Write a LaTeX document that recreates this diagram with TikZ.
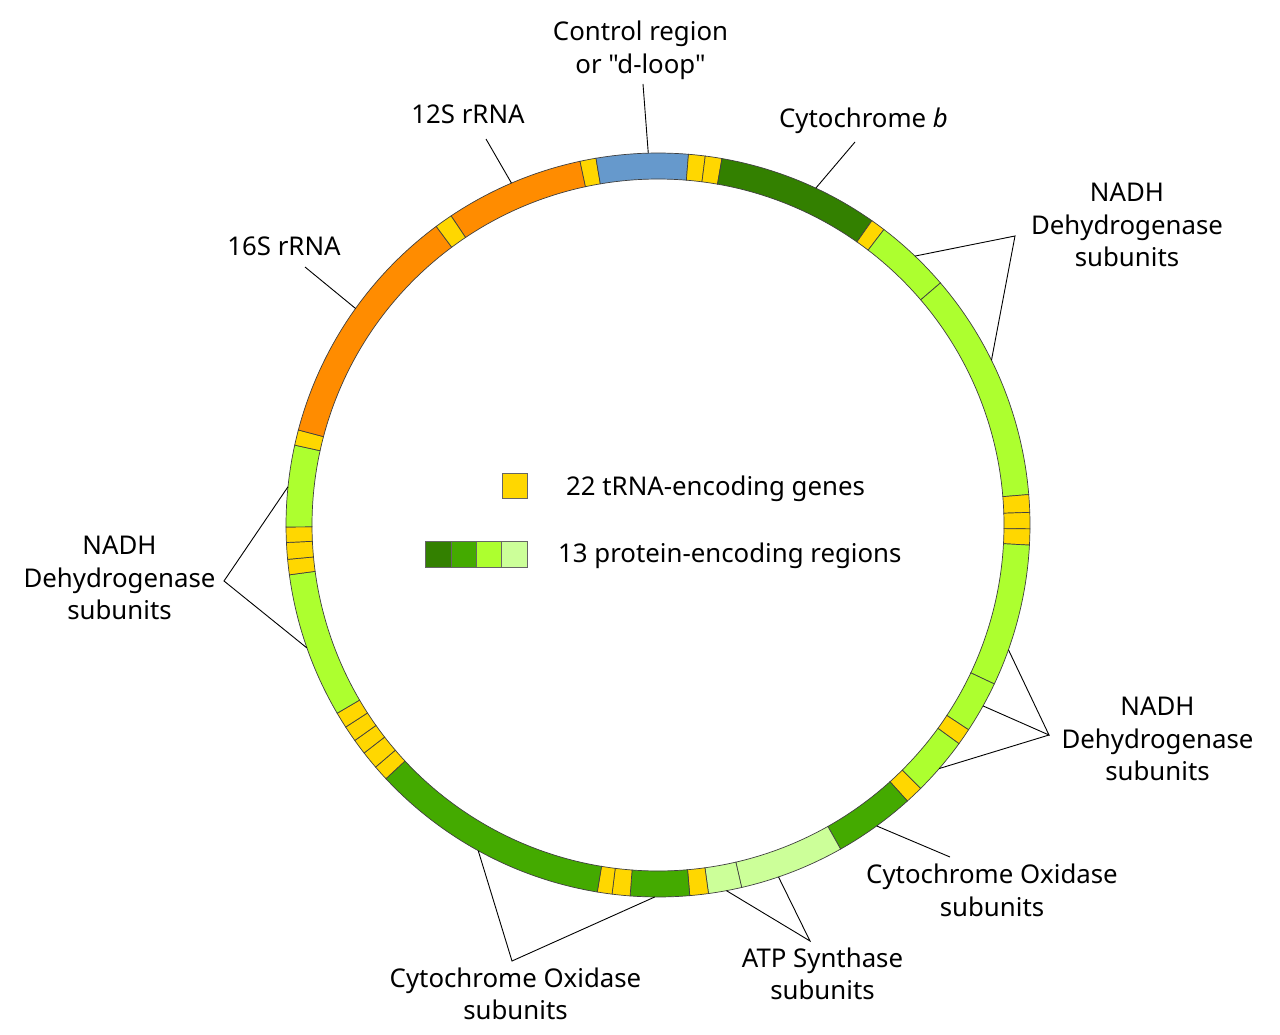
\documentclass[tikz,border=0pt]{standalone}
\usepackage{fontspec}
\setmainfont{Noto Sans}[Ligatures=TeXOff]
\definecolor{orng}{HTML}{FF8C00}
\definecolor{gld}{HTML}{FFD700}
\definecolor{blu}{HTML}{6699CC}
\definecolor{dkg}{HTML}{338000}
\definecolor{mdg}{HTML}{44AA00}
\definecolor{ltg}{HTML}{ADFF2F}
\definecolor{pale}{HTML}{CCFF99}
\tikzset{
  segm/.style={draw=black!75, line width=0.7pt},
  ptr/.style={draw=black, line width=0.9pt},
  lbl/.style={font=\fontsize{25.8}{32.5}\selectfont, inner sep=0pt, anchor=base},
  legbox/.style={draw=black!60, line width=0.8pt},
}
\newcommand\ringseg[3]{\filldraw[segm, fill=#3] (#1:372) arc[start angle=#1, end angle=#2, radius=372] -- (#2:346) arc[start angle=#2, end angle=#1, radius=346] -- cycle;}
\begin{document}
\begin{tikzpicture}[x=1pt,y=-1pt]
\fill[white] (0,0) rectangle (1280,1035);
\useasboundingbox (0,0) rectangle (1280,1035);
\begin{scope}[shift={(658,525)}, yscale=-1]
\ringseg{123.8}{102.1}{orng}
\ringseg{102.1}{99.6}{gld}
\ringseg{99.6}{85.3}{blu}
\ringseg{85.3}{82.7}{gld}
\ringseg{82.7}{80.1}{gld}
\ringseg{80.1}{54.9}{dkg}
\ringseg{54.9}{52.6}{gld}
\ringseg{52.6}{40.6}{ltg}
\ringseg{40.6}{4.7}{ltg}
\ringseg{4.7}{1.95}{gld}
\ringseg{1.95}{-0.6}{gld}
\ringseg{-0.6}{-3.1}{gld}
\ringseg{-3.1}{-25.3}{ltg}
\ringseg{-25.3}{-33.4}{ltg}
\ringseg{-33.4}{-36.0}{gld}
\ringseg{-36.0}{-45.1}{ltg}
\ringseg{-45.1}{-47.9}{gld}
\ringseg{-47.9}{-60.6}{mdg}
\ringseg{-60.6}{-77.0}{pale}
\ringseg{-77.0}{-82.2}{pale}
\ringseg{-82.2}{-85.1}{gld}
\ringseg{-85.1}{-94.3}{mdg}
\ringseg{-94.3}{-97.1}{gld}
\ringseg{-97.1}{-99.4}{gld}
\ringseg{-99.4}{-137.0}{mdg}
\ringseg{-137.0}{-139.4}{gld}
\ringseg{-139.4}{-142.2}{gld}
\ringseg{-142.2}{-144.6}{gld}
\ringseg{-144.6}{-147.1}{gld}
\ringseg{-147.1}{-149.6}{gld}
\ringseg{-149.6}{-172.3}{ltg}
\ringseg{-172.3}{-174.7}{gld}
\ringseg{-174.7}{-177.3}{gld}
\ringseg{-177.3}{-179.7}{gld}
\ringseg{180.3}{167.6}{ltg}
\ringseg{167.6}{165.2}{gld}
\ringseg{165.2}{126.6}{orng}
\ringseg{126.6}{123.8}{gld}
% ring end points of pointers
\coordinate (rCtl) at (91.5:372);
\coordinate (r12S) at (113.2:372);
\coordinate (r16S) at (144.4:372);
\coordinate (rCytb) at (64.9:372);
\coordinate (rTRa) at (46.3:372);
\coordinate (rTRb) at (26.3:372);
\coordinate (rLa) at (174.1:372);
\coordinate (rLb) at (199.3:372);
\coordinate (rBRa) at (-19.6:372);
\coordinate (rBRb) at (-29.1:372);
\coordinate (rBRc) at (-40.9:372);
\coordinate (rCoxR) at (-54.0:372);
\coordinate (rAtpa) at (-79.4:372);
\coordinate (rAtpb) at (-71.1:372);
\coordinate (rCoxBa) at (241.1:372);
\coordinate (rCoxBb) at (-90.5:372);
\end{scope}
% labels
\node[lbl] (tCtl) at (640.5,41) {\begin{tabular}[t]{@{}c@{}}Control region\\or "d-loop"\end{tabular}};
\node[lbl] (t12S) at (468,123.5) {12S rRNA};
\node[lbl] (t16S) at (284,255.5) {16S rRNA};
\node[lbl] (tCytb) at (863.5,127.5) {Cytochrome \textit{b}};
\node[lbl] (tNTR) at (1127,201.7) {\begin{tabular}[t]{@{}c@{}}NADH\\Dehydrogenase\\subunits\end{tabular}};
\node[lbl] (tNL) at (119.5,554.5) {\begin{tabular}[t]{@{}c@{}}NADH\\Dehydrogenase\\subunits\end{tabular}};
\node[lbl] (tNBR) at (1157.5,715.5) {\begin{tabular}[t]{@{}c@{}}NADH\\Dehydrogenase\\subunits\end{tabular}};
\node[lbl] (tCoxR) at (992,883.5) {\begin{tabular}[t]{@{}c@{}}Cytochrome Oxidase\\subunits\end{tabular}};
\node[lbl] (tAtp) at (822.5,967) {\begin{tabular}[t]{@{}c@{}}ATP Synthase\\subunits\end{tabular}};
\node[lbl] (tCoxB) at (515.5,987) {\begin{tabular}[t]{@{}c@{}}Cytochrome Oxidase\\subunits\end{tabular}};
% legend
\draw[legbox, fill=gld] (502.3,473.3) rectangle (527.7,498.3);
\draw[legbox, fill=dkg] (425.7,541.7) rectangle (450.9,567.3);
\draw[legbox, fill=mdg] (450.9,541.7) rectangle (476.2,567.3);
\draw[legbox, fill=ltg] (476.2,541.7) rectangle (501.7,567.3);
\draw[legbox, fill=pale] (501.7,541.7) rectangle (527.7,567.3);
\node[lbl, anchor=base west] (tTrna) at (566,495) {22 tRNA-encoding genes};
\node[lbl, anchor=base west] (tProt) at (558,562) {13 protein-encoding regions};
% pointer start / apex coordinates
\coordinate (sCtl) at (643,84);
\coordinate (s12S) at (486,139);
\coordinate (s16S) at (305,267);
\coordinate (sCytb) at (855,142);
\coordinate (aTR) at (1015,236);
\coordinate (aL) at (224,581);
\coordinate (aBR) at (1049,735);
\coordinate (sCoxR) at (950,857);
\coordinate (aAtp) at (810,941);
\coordinate (aCoxB) at (512,961);
% pointers
\draw[ptr] (sCtl) -- (rCtl);
\draw[ptr] (s12S) -- (r12S);
\draw[ptr] (s16S) -- (r16S);
\draw[ptr] (sCytb) -- (rCytb);
\draw[ptr] (rTRa) -- (aTR) -- (rTRb);
\draw[ptr] (rLa) -- (aL) -- (rLb);
\draw[ptr] (rBRa) -- (aBR) -- (rBRb);
\draw[ptr] (aBR) -- (rBRc);
\draw[ptr] (sCoxR) -- (rCoxR);
\draw[ptr] (rAtpa) -- (aAtp) -- (rAtpb);
\draw[ptr] (rCoxBa) -- (aCoxB) -- (rCoxBb);
\end{tikzpicture}
\end{document}
